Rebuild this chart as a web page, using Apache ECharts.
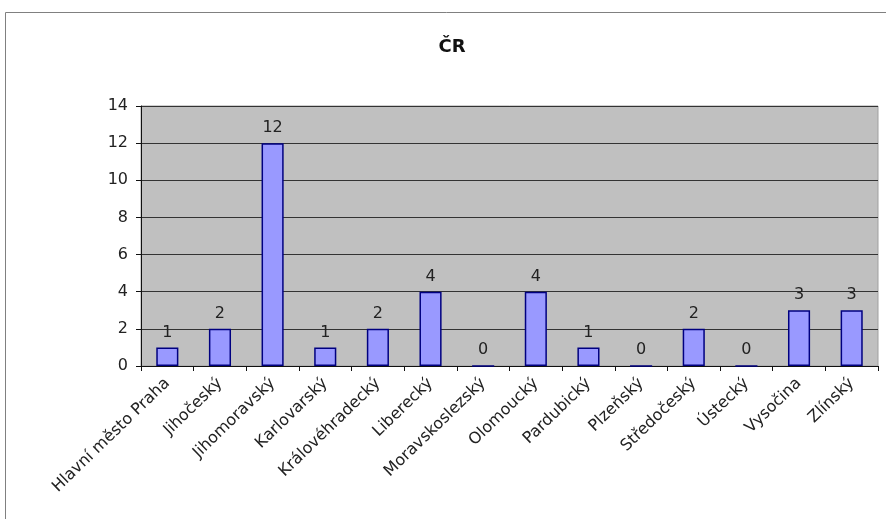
<!DOCTYPE html>
<html>
<head>
<meta charset="utf-8">
<script src="https://cdn.jsdelivr.net/npm/echarts@6/dist/echarts.min.js"></script>
<style>
  html, body { margin: 0; padding: 0; background: #ffffff; }
  #chart { width: 886px; height: 519px; }
</style>
</head>
<body>
<div id="chart"></div>
<script>
// Regions of the Czech Republic and their counts
const regions = [
  'Hlavní město Praha', 'Jihočeský', 'Jihomoravský', 'Karlovarský',
  'Královéhradecký', 'Liberecký', 'Moravskoslezský', 'Olomoucký',
  'Pardubický', 'Plzeňský', 'Středočeský', 'Ústecký', 'Vysočina', 'Zlínský'
];
const counts = [1, 2, 12, 1, 2, 4, 0, 4, 1, 0, 2, 0, 3, 3];

const yMin = 0;
const yMax = 14;
const yStep = 2;

const FONT = '"DejaVu Sans", Verdana, sans-serif';

const chart = echarts.init(document.getElementById('chart'), null, { renderer: 'canvas' });

chart.setOption({
  animation: false,
  backgroundColor: '#ffffff',
  textStyle: { fontFamily: FONT },
  title: {
    text: 'ČR',
    left: 447,
    textAlign: 'center',
    top: 33,
    textStyle: { fontSize: 18, fontWeight: 'bold', color: '#111111', fontFamily: FONT }
  },
  graphic: [
    {
      type: 'rect',
      silent: true,
      z: -10,
      shape: { x: 5.5, y: 12.5, width: 900, height: 600 },
      style: { fill: 'none', stroke: '#808080', lineWidth: 1 }
    }
  ],
  grid: {
    left: 141,
    top: 106,
    right: 8,
    bottom: 153,
    show: true,
    backgroundColor: '#c0c0c0',
    borderColor: '#a0a0a0',
    borderWidth: 1
  },
  xAxis: {
    type: 'category',
    data: regions,
    axisLine: { show: true, lineStyle: { color: '#111111', width: 1 } },
    axisTick: { show: true, length: 5, lineStyle: { color: '#111111' } },
    axisLabel: {
      interval: 0,
      rotate: 44,
      margin: 15,
      fontSize: 16,
      color: '#222222',
      fontFamily: FONT
    },
    splitLine: { show: false }
  },
  yAxis: {
    type: 'value',
    min: yMin,
    max: yMax,
    interval: yStep,
    axisLine: { show: true, lineStyle: { color: '#111111', width: 1 } },
    axisTick: { show: true, length: 5, lineStyle: { color: '#111111' } },
    axisLabel: {
      fontSize: 16,
      color: '#222222',
      margin: 13,
      fontFamily: FONT
    },
    splitLine: { show: true, lineStyle: { color: '#333333', width: 1.2 } }
  },
  series: [
    {
      type: 'bar',
      data: counts,
      barWidth: '42%',
      itemStyle: {
        color: '#9999ff',
        borderColor: '#000080',
        borderWidth: 1.5
      },
      label: {
        show: true,
        position: 'top',
        distance: 7,
        fontSize: 16,
        color: '#222222',
        fontFamily: FONT
      }
    }
  ]
});
</script>
</body>
</html>
